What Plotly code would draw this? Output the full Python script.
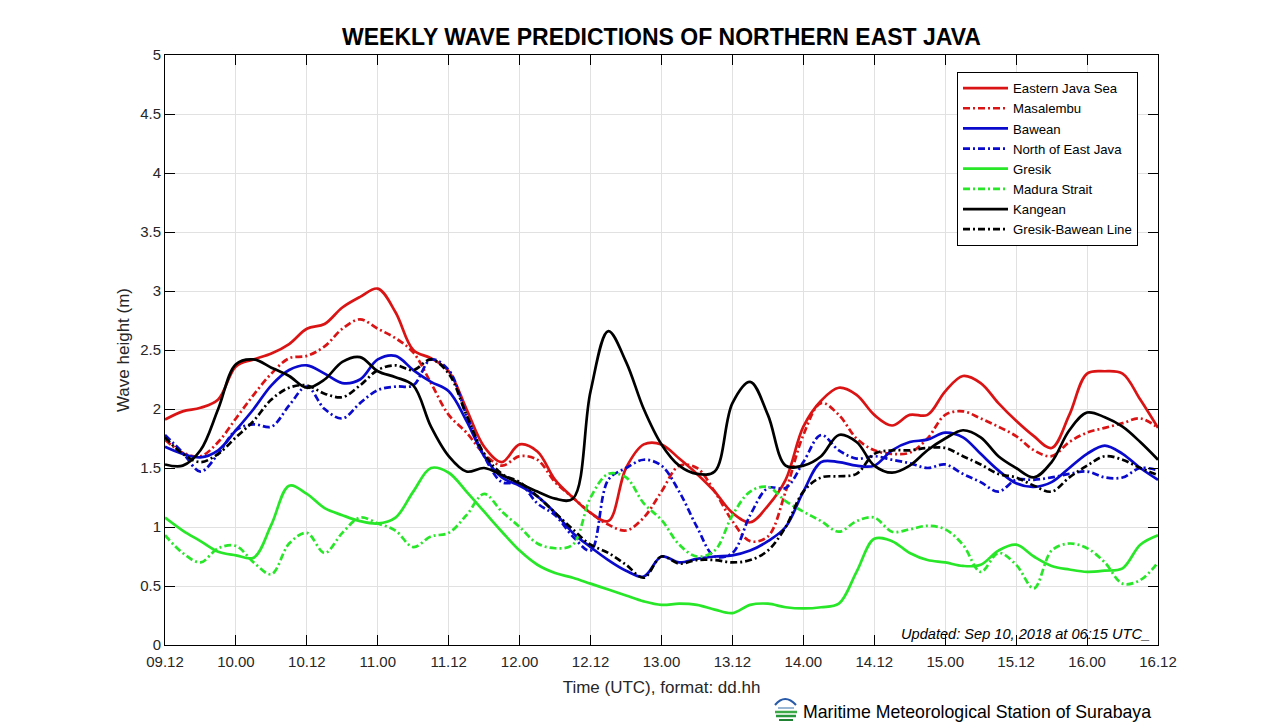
import plotly.graph_objects as go
import pandas as pd

# 3-hourly time steps from 09.12 to 16.12 (UTC)
times = pd.date_range("2018-09-09 12:00", "2018-09-16 12:00", freq="3h")

eastern_java_sea = [1.91, 1.98, 2.01, 2.08, 2.36, 2.42, 2.47, 2.55, 2.68, 2.72, 2.86, 2.95, 3.02, 2.82, 2.50, 2.43,
                    2.32, 2.00, 1.68, 1.55, 1.70, 1.64, 1.40, 1.25, 1.12, 1.05, 1.50, 1.70, 1.70, 1.58, 1.45, 1.30,
                    1.12, 1.04, 1.18, 1.40, 1.85, 2.07, 2.18, 2.12, 1.95, 1.86, 1.95, 1.95, 2.15, 2.28, 2.22, 2.05,
                    1.90, 1.77, 1.67, 1.95, 2.30, 2.32, 2.30, 2.08, 1.84]
masalembu = [1.74, 1.63, 1.60, 1.72, 1.92, 2.12, 2.30, 2.43, 2.45, 2.53, 2.68, 2.76, 2.68, 2.60, 2.48, 2.22,
             1.95, 1.80, 1.62, 1.52, 1.60, 1.57, 1.38, 1.25, 1.12, 1.02, 0.97, 1.08, 1.30, 1.52, 1.50, 1.30,
             1.05, 0.88, 0.92, 1.30, 1.78, 2.05, 1.95, 1.75, 1.65, 1.62, 1.63, 1.75, 1.95, 1.98, 1.92, 1.85,
             1.77, 1.65, 1.60, 1.72, 1.80, 1.84, 1.88, 1.92, 1.84]
bawean = [1.68, 1.62, 1.59, 1.65, 1.82, 2.00, 2.20, 2.33, 2.37, 2.30, 2.22, 2.25, 2.42, 2.45, 2.33, 2.23,
          2.15, 1.90, 1.60, 1.42, 1.35, 1.26, 1.12, 0.95, 0.83, 0.72, 0.63, 0.58, 0.75, 0.70, 0.73, 0.75,
          0.76, 0.80, 0.88, 1.00, 1.30, 1.55, 1.55, 1.52, 1.52, 1.65, 1.72, 1.74, 1.80, 1.76, 1.62, 1.48,
          1.37, 1.34, 1.38, 1.50, 1.62, 1.69, 1.62, 1.50, 1.40]
north_east_java = [1.78, 1.63, 1.47, 1.62, 1.82, 1.87, 1.85, 2.03, 2.19, 2.00, 1.92, 2.05, 2.16, 2.19, 2.20, 2.42,
                   2.33, 1.95, 1.60, 1.38, 1.37, 1.20, 1.10, 0.92, 0.80, 1.40, 1.50, 1.57, 1.52, 1.30, 1.00, 0.75,
                   0.78, 1.10, 1.33, 1.33, 1.55, 1.78, 1.65, 1.58, 1.60, 1.57, 1.54, 1.50, 1.53, 1.45, 1.38, 1.30,
                   1.40, 1.40, 1.42, 1.45, 1.47, 1.42, 1.42, 1.50, 1.48]
gresik = [1.08, 0.97, 0.88, 0.79, 0.76, 0.74, 1.02, 1.35, 1.28, 1.16, 1.10, 1.05, 1.03, 1.08, 1.30, 1.50,
          1.46, 1.30, 1.13, 0.96, 0.80, 0.68, 0.61, 0.57, 0.52, 0.47, 0.42, 0.37, 0.34, 0.35, 0.34, 0.30,
          0.27, 0.34, 0.35, 0.32, 0.31, 0.32, 0.35, 0.62, 0.90, 0.88, 0.78, 0.72, 0.70, 0.67, 0.68, 0.80,
          0.85, 0.75, 0.67, 0.64, 0.62, 0.63, 0.65, 0.85, 0.93]
madura_strait = [0.93, 0.78, 0.70, 0.82, 0.84, 0.70, 0.60, 0.86, 0.95, 0.78, 0.95, 1.08, 1.03, 0.97, 0.83, 0.92,
                 0.95, 1.10, 1.28, 1.13, 1.00, 0.86, 0.82, 0.85, 1.25, 1.45, 1.42, 1.20, 1.06, 0.85, 0.75, 0.80,
                 1.10, 1.30, 1.34, 1.22, 1.13, 1.05, 0.96, 1.05, 1.08, 0.96, 0.98, 1.01, 0.98, 0.85, 0.62, 0.78,
                 0.68, 0.48, 0.80, 0.86, 0.82, 0.70, 0.52, 0.55, 0.70]
kangean = [1.53, 1.52, 1.65, 2.00, 2.38, 2.42, 2.35, 2.28, 2.18, 2.25, 2.40, 2.44, 2.32, 2.27, 2.20, 1.85,
           1.60, 1.47, 1.50, 1.44, 1.37, 1.30, 1.24, 1.24, 2.15, 2.66, 2.40, 2.00, 1.70, 1.52, 1.45, 1.47,
           2.05, 2.23, 1.95, 1.52, 1.52, 1.60, 1.78, 1.72, 1.52, 1.46, 1.52, 1.65, 1.75, 1.82, 1.76, 1.60,
           1.50, 1.42, 1.55, 1.82, 1.97, 1.93, 1.85, 1.72, 1.57]
gresik_bawean = [1.76, 1.62, 1.55, 1.62, 1.76, 1.90, 2.08, 2.18, 2.20, 2.13, 2.10, 2.20, 2.33, 2.37, 2.33, 2.42,
                 2.30, 1.95, 1.62, 1.45, 1.38, 1.26, 1.12, 0.98, 0.85, 0.78, 0.68, 0.57, 0.75, 0.69, 0.72, 0.72,
                 0.70, 0.72, 0.80, 1.00, 1.30, 1.42, 1.43, 1.45, 1.62, 1.65, 1.65, 1.67, 1.67, 1.60, 1.53, 1.45,
                 1.42, 1.35, 1.30, 1.42, 1.52, 1.60, 1.57, 1.50, 1.44]

series_names = ["Eastern Java Sea", "Masalembu", "Bawean", "North of East Java",
                "Gresik", "Madura Strait", "Kangean", "Gresik-Bawean Line"]
series_values = [eastern_java_sea, masalembu, bawean, north_east_java,
                 gresik, madura_strait, kangean, gresik_bawean]

y_tick_values = [0, 0.5, 1, 1.5, 2, 2.5, 3, 3.5, 4, 4.5, 5]
y_tick_labels = ["0", "0.5", "1", "1.5", "2", "2.5", "3", "3.5", "4", "4.5", "5"]

RED = "rgb(218,20,20)"
BLUE = "rgb(10,10,205)"
GREEN = "rgb(40,230,40)"
BLACK = "rgb(0,0,0)"
colors = [RED, RED, BLUE, BLUE, GREEN, GREEN, BLACK, BLACK]
DASHDOT = "7px,3px,2px,3px"
dashes = ["solid", DASHDOT, "solid", DASHDOT, "solid", DASHDOT, "solid", DASHDOT]

fig = go.Figure()
for name, vals, c, d in zip(series_names, series_values, colors, dashes):
    fig.add_trace(go.Scatter(
        x=times, y=vals, name=name, mode="lines",
        line=dict(color=c, width=2.7, dash=d, shape="spline", smoothing=1.0),
    ))

# plot area geometry (pixels)
L, R, T, B = 165, 1158, 55, 645
W, H = 1280, 725


def px(xp, yp):
    return (xp - L) / (R - L), (B - yp) / (B - T)


FONT = "Liberation Sans, Arial, sans-serif"
TXT = "#262626"

fig.update_layout(
    width=W, height=H,
    margin=dict(l=L, r=W - R, t=T, b=H - B, autoexpand=False),
    paper_bgcolor="white", plot_bgcolor="white",
    font=dict(family=FONT, size=15, color=TXT),
    title=dict(text="<b>WEEKLY WAVE PREDICTIONS OF NORTHERN EAST JAVA</b>",
               x=0.5, xref="paper", xanchor="center",
               y=1 - 37 / H, yref="container", yanchor="middle",
               font=dict(family=FONT, size=23, color="black")),
    showlegend=True,
    legend=dict(x=px(957, 72)[0], y=px(957, 72)[1], xanchor="left", yanchor="top",
                bgcolor="white", bordercolor="black", borderwidth=1,
                font=dict(family=FONT, size=13.2, color="black"),
                tracegroupgap=0, itemwidth=45),
)

fig.update_xaxes(
    range=[times[0], times[-1]],
    tick0=times[0], dtick=12 * 3600 * 1000, tickformat="%d.%H",
    ticks="inside", ticklen=10, tickcolor="black", tickwidth=1,
    showline=True, linecolor="black", linewidth=1, mirror="ticks",
    showgrid=True, gridcolor="#e1e1e1", gridwidth=1,
    tickfont=dict(size=15, color=TXT), ticklabelstandoff=3,
    title=dict(text="Time (UTC), format: dd.hh", font=dict(size=17, color=TXT), standoff=12),
    zeroline=False, automargin=False,
)
fig.update_yaxes(
    range=[0, 5], tickvals=y_tick_values, ticktext=y_tick_labels,
    ticks="inside", ticklen=10, tickcolor="black", tickwidth=1,
    showline=True, linecolor="black", linewidth=1, mirror="ticks",
    showgrid=True, gridcolor="#e1e1e1", gridwidth=1,
    tickfont=dict(size=15, color=TXT),
    title=dict(text="Wave height (m)", font=dict(size=17, color=TXT), standoff=6),
    zeroline=False, automargin=False,
)

ux, uy = px(1152, 634)
fig.add_annotation(text="<i>Updated: Sep 10, 2018 at 06:15 UTC_</i>",
                   xref="paper", yref="paper", x=ux, y=uy, xanchor="right", yanchor="middle",
                   showarrow=False, font=dict(family=FONT, size=14.6, color="black"))

mx, my = px(801, 712)
fig.add_annotation(text="Maritime Meteorological Station of Surabaya",
                   xref="paper", yref="paper", x=mx, y=my, xanchor="left", yanchor="middle",
                   showarrow=False, font=dict(family=FONT, size=17.7, color="black"))


# small station logo
def seg(x0, y0, x1, y1, color, width):
    a = px(x0, y0)
    b = px(x1, y1)
    fig.add_shape(type="line", xref="paper", yref="paper", x0=a[0], y0=a[1], x1=b[0], y1=b[1],
                  line=dict(color=color, width=width))


p0, pc, p1 = px(775, 705), px(785, 693), px(796, 705)
fig.add_shape(type="path", xref="paper", yref="paper",
              path=f"M {p0[0]},{p0[1]} Q {pc[0]},{pc[1]} {p1[0]},{p1[1]}",
              line=dict(color="rgb(40,90,170)", width=2))
seg(778, 708, 794, 708, "rgb(120,160,200)", 1.5)
seg(775, 712, 797, 712, "rgb(60,170,70)", 2.5)
seg(776, 716, 796, 716, "rgb(40,150,60)", 2.5)
seg(779, 720, 793, 720, "rgb(30,130,50)", 2)

fig.write_html("out.html")
